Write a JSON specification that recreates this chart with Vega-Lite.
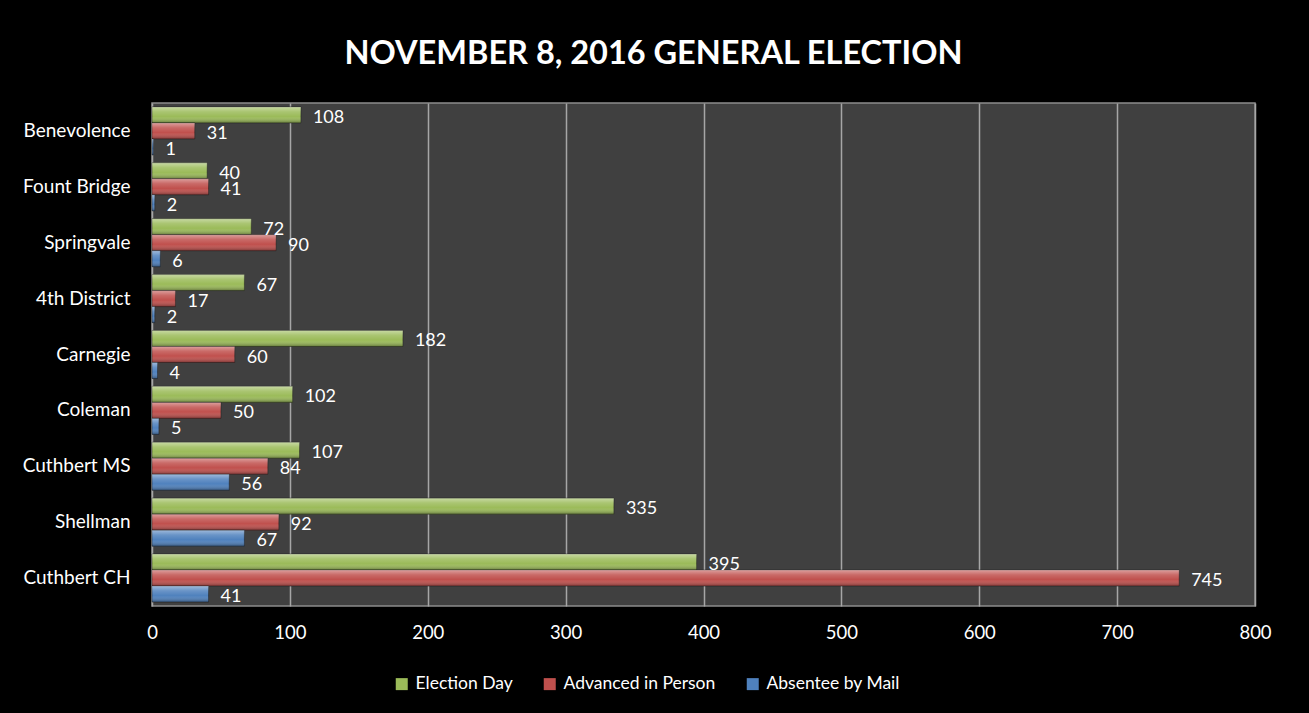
{
  "$schema": "https://vega.github.io/schema/vega-lite/v6.json",
  "autosize": "none",
  "width": 1103,
  "height": 503,
  "padding": {"left": 152, "top": 103, "right": 54, "bottom": 107},
  "background": "#000000",
  "title": {
    "text": "NOVEMBER 8, 2016 GENERAL ELECTION",
    "font": "Lato",
    "fontSize": 32.5,
    "fontWeight": "bold",
    "color": "#ffffff",
    "anchor": "middle",
    "dx": -50,
    "offset": 33
  },
  "data": {
    "values": [
      {"precinct": "Benevolence", "series": "Election Day", "votes": 108},
      {"precinct": "Benevolence", "series": "Advanced in Person", "votes": 31},
      {"precinct": "Benevolence", "series": "Absentee by Mail", "votes": 1},
      {"precinct": "Fount Bridge", "series": "Election Day", "votes": 40},
      {"precinct": "Fount Bridge", "series": "Advanced in Person", "votes": 41},
      {"precinct": "Fount Bridge", "series": "Absentee by Mail", "votes": 2},
      {"precinct": "Springvale", "series": "Election Day", "votes": 72},
      {"precinct": "Springvale", "series": "Advanced in Person", "votes": 90},
      {"precinct": "Springvale", "series": "Absentee by Mail", "votes": 6},
      {"precinct": "4th District", "series": "Election Day", "votes": 67},
      {"precinct": "4th District", "series": "Advanced in Person", "votes": 17},
      {"precinct": "4th District", "series": "Absentee by Mail", "votes": 2},
      {"precinct": "Carnegie", "series": "Election Day", "votes": 182},
      {"precinct": "Carnegie", "series": "Advanced in Person", "votes": 60},
      {"precinct": "Carnegie", "series": "Absentee by Mail", "votes": 4},
      {"precinct": "Coleman", "series": "Election Day", "votes": 102},
      {"precinct": "Coleman", "series": "Advanced in Person", "votes": 50},
      {"precinct": "Coleman", "series": "Absentee by Mail", "votes": 5},
      {"precinct": "Cuthbert MS", "series": "Election Day", "votes": 107},
      {"precinct": "Cuthbert MS", "series": "Advanced in Person", "votes": 84},
      {"precinct": "Cuthbert MS", "series": "Absentee by Mail", "votes": 56},
      {"precinct": "Shellman", "series": "Election Day", "votes": 335},
      {"precinct": "Shellman", "series": "Advanced in Person", "votes": 92},
      {"precinct": "Shellman", "series": "Absentee by Mail", "votes": 67},
      {"precinct": "Cuthbert CH", "series": "Election Day", "votes": 395},
      {"precinct": "Cuthbert CH", "series": "Advanced in Person", "votes": 745},
      {"precinct": "Cuthbert CH", "series": "Absentee by Mail", "votes": 41}
    ]
  },
  "encoding": {
    "y": {
      "field": "precinct",
      "type": "nominal",
      "sort": null,
      "scale": {"paddingInner": 0.14, "paddingOuter": 0.07},
      "axis": {
        "title": null,
        "labelFont": "Lato",
        "labelFontSize": 19,
        "labelColor": "#ffffff",
        "labelPadding": 22,
        "ticks": false,
        "domain": false
      }
    },
    "yOffset": {
      "field": "series",
      "type": "nominal",
      "sort": ["Election Day", "Advanced in Person", "Absentee by Mail"]
    },
    "x": {
      "field": "votes",
      "type": "quantitative",
      "scale": {"domain": [0, 800], "nice": false},
      "axis": {
        "title": null,
        "values": [0, 100, 200, 300, 400, 500, 600, 700, 800],
        "labelFont": "Lato",
        "labelFontSize": 18.5,
        "labelColor": "#ffffff",
        "labelPadding": 17,
        "labelFlush": false,
        "ticks": false,
        "domain": false,
        "grid": true,
        "gridColor": "#a6a6a6",
        "gridWidth": 1.5
      }
    }
  },
  "layer": [
    {
      "mark": {"type": "bar", "stroke": "#1a1a1a", "strokeWidth": 0.8, "strokeOpacity": 0.6},
      "encoding": {
        "color": {
          "field": "series",
          "type": "nominal",
          "scale": {
            "domain": ["Election Day", "Advanced in Person", "Absentee by Mail"],
            "range": ["#9bbb59", "#c0504d", "#4f81bd"]
          },
          "legend": {
            "title": null,
            "orient": "none",
            "legendX": 241,
            "legendY": 572,
            "direction": "horizontal",
            "symbolType": "square",
            "symbolSize": 144,
            "symbolStrokeWidth": 0,
            "labelFont": "Lato",
            "labelFontSize": 17.5,
            "labelColor": "#ffffff",
            "labelLimit": 400,
            "columnPadding": 28,
            "labelOffset": 5
          }
        }
      }
    },
    {
      "mark": {
        "type": "bar",
        "color": {
          "gradient": "linear",
          "x1": 0, "y1": 0, "x2": 0, "y2": 1,
          "stops": [
            {"offset": 0, "color": "rgba(255,255,255,0.45)"},
            {"offset": 0.3, "color": "rgba(255,255,255,0.15)"},
            {"offset": 0.6, "color": "rgba(255,255,255,0)"},
            {"offset": 1, "color": "rgba(0,0,0,0.35)"}
          ]
        }
      }
    },
    {
      "mark": {
        "type": "text",
        "align": "left",
        "baseline": "middle",
        "dx": 12,
        "dy": 3,
        "font": "Lato",
        "fontSize": 18,
        "color": "#ffffff"
      },
      "encoding": {
        "text": {"field": "votes", "type": "quantitative"}
      }
    }
  ],
  "config": {
    "view": {"fill": "#404040", "stroke": "#8c8c8c", "strokeWidth": 1.5}
  }
}
